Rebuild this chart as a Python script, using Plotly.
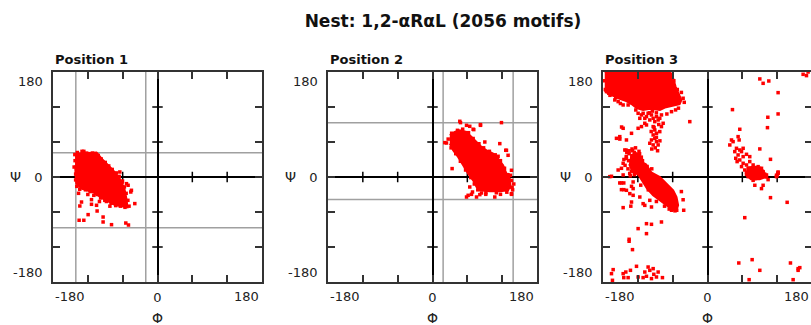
import plotly.graph_objects as go

# ---------------- data ----------------
title_text = "Nest: 1,2-\u03b1R\u03b1L (2056 motifs)"
panel_titles = ["Position 1", "Position 2", "Position 3"]
axis_range = [-180, 180]
tick_vals = [-120, -60, 0, 60, 120]
tick_text = ["", "", "0", "", ""]
edge_labels = ["-180", "180"]
x_title = "\u03a6"
y_title = "\u03a8"

# region bounds (grey lines)
p1_phi_bounds = [-140.7, -20.2]
p1_psi_bounds = [41.5, -87.0]
p2_phi_bounds = [18.3, 138.9]
p2_psi_bounds = [93.0, -38.5]

# Position 1: dense core outline + individual points
p1_core_phi = [-142, -105, -94, -76, -65, -57, -53, -52, -73, -94, -111, -131, -140, -142]
p1_core_psi = [40, 42, 29, 11, -3, -20, -40, -52, -48, -37, -26, -20, -11, 20]
p1_phi = [-130.9, -133.8, -113.7, -113.7, -104, -119.5, -126.9, -135, -93.7, -93.7, -79.2, -54.6, -50,
          -39.1, -46, -53.4, -60.3, -142.4, -143.6, -126.9, -105, -109.7, -90.8, -50.6, -44.9, -64.9,
          -138, -130, -122, -112, -102, -97, -90, -84, -78, -71, -66, -61, -57, -54, -51, -49, -56, -64,
          -72, -80, -88, -98, -104, -116, -124, -134, -139, -141, -141, -142, -136, -120, -100, -82, -60, -58]
p1_psi = [-42.9, -49.7, -38.8, -46.8, -58.3, -64.5, -74.2, -74.2, -68.6, -77.1, -81.7, -78.9, -82.3,
          -45.6, -25.7, -11.4, -6.9, 38.4, 17.1, 44, -48.5, -31.4, -40, -14.2, -22.8, 8.6,
          42, 44, 41, 41, 37, 31, 25, 19, 13, 7, 1, -9, -17, -28, -40, -50, -52, -50,
          -49, -45, -42, -36, -30, -25, -22, -21, -16, -5, 5, 28, -28, -30, -42, -50, -45, -35]

# Position 2
p2_core_phi = [29.8, 38.4, 47, 58.6, 67.2, 75.8, 84.4, 93, 104.4, 113, 121.6, 127.4, 133.2, 134.3, 130.3,
               116, 98.7, 81.5, 75.8, 70, 61.4, 52.8, 44.1, 35.5, 29.8]
p2_core_psi = [71.5, 77.2, 80.1, 77.2, 68.6, 60, 51.4, 45.7, 40.1, 31.5, 20, 5.8, -2.8, -14.3, -22.8,
               -24.5, -24.5, -22.8, -17.1, -5.7, 5.8, 20, 34.3, 45.7, 57.2]
p2_phi = [48.2, 64.2, 71.1, 82.7, 118.8, 115.9, 126.2, 130.2, 24.1, 33.8, 58.6, 67.2, 75.8, 84.4, 91.8,
          107.3, 117.1, 136.1, 133.1, 121.6, 130.2, 134.3, 98.7, 107.3, 113, 64.2, 68.9,
          21.2, 47, 58.6, 70, 82.6, 90.1, 127.4, 136, 136, 61.4, 81.5,
          27, 33, 43, 52, 62, 70, 80, 88, 98, 108, 117, 124, 130, 136, 137, 128, 110, 92, 78, 72, 66,
          57, 48, 40, 32, 140, 138]
p2_psi = [93.2, 86.9, 81.2, 88.6, 93.2, 57.2, 45.8, 37.2, 58.3, 14.4, -34.3, -29.7, -34.3, -27.4, -29.7,
          -34.3, -29.7, -29.7, -17.1, -5.7, -5.7, 2.9, 28.6, 31.5, 35.5, -17.1, -25.7,
          58.9, 95.5, 88.6, 81.8, 89.8, 60, 45.7, 11.5, -28.5, -31.4, -30.2,
          65, 75, 80, 82, 76, 66, 57, 50, 44, 38, 28, 15, 4, -6, -18, -26, -27, -27, -22, -12, -1,
          12, 27, 40, 50, -12, -22]

# Position 3
p3_top_phi = [-177, -65, -60, -55, -49, -45, -48, -59, -73.5, -82, -99, -111, -122, -131, -140, -151,
              -162.5, -171, -177]
p3_top_psi = [180, 180, 172, 155, 141, 132, 125, 122, 119, 115, 117, 115, 118, 125, 130, 134, 139,
              143, 148]
p3_alpha_phi = [-118, -106, -97, -82, -70.6, -59.2, -53.4, -50.6, -53.4, -59.2, -70.6, -82.2, -93.7,
                -104, -110.9, -116.6, -124, -126]
p3_alpha_psi = [28, 22, 8, 0, -11.4, -22.8, -34.3, -48.5, -57.1, -57.1, -48.5, -40, -31.4, -19.9,
                -8.6, 0, 10, 22]
p3_alpha_top_phi = [-133, -122, -114, -110, -113, -121, -129, -135]
p3_alpha_top_psi = [37, 41, 34, 22, 10, 5, 9, 22]
p3_lalpha_phi = [68, 80, 92, 98, 100, 90, 75, 68]
p3_lalpha_psi = [16, 18, 16, 8, 0, -4, -4, 2]
p3_phi = [
    # stem between beta and alpha regions
    -123.5, -119.5, -116.6, -113.7, -110.9, -108, -105.1, -102.3, -99.4, -96.5, -93.6, -90.8, -87.9,
    -85, -82.2, -79.3, -93.6, -90.8, -87.9, -93.6, -90.8, -96.5, -87.9, -93.6, -99.4, -85, -79.3,
    -82.2, -76.4, -108, -113.7, -119.5, -105.1, -88, -95, -100, -84, -92, -97, -88, -82, -90, -96, -86,
    # left side bridge
    -145.3, -130.9, -151.1, -156.8, -139.6, -148, -151, -140, -135, -142.4,
    -139.6, -145.3, -148.2, -153.9, -145.3, -168.3,
    # upper part of the alpha region
    -135, -130, -126, -122, -118, -114, -128, -124, -120, -116, -112, -132, -136, -140, -127, -122,
    -118, -114, -110, -131, -137, -142, -120, -126, -133, -108, -112, -139, -144, -130, -124, -117,
    -110, -104, -100, -96, -134, -129,
    # top-left and right edge of beta region
    -174, -170, -159.7, -153.9, -158, -145.3, -150, -136.7, -178, -176, -168,
    -42, -45, -50, -55, -62, -70, -40, -58, -52, -62, -68, -30.5,
    # around alpha region
    -165.4, -151.1, -148.2, -144.2, -148.2, -144.2, -139.6, -130.9, -128.1, -128.1, -133.8, -128.1,
    -130.9, -145.3, -132.1, -116.6, -110.9, -108, -99.4, -96.5, -105.1, -96.5, -79.3, -119.5, -105.1,
    -135, -135, -129.2, -42, -41, -53, -62, -45, -56, -66, -74, -88, -102, -115,
    # bottom edge
    -162.5, -165.4, -163.7, -145.3, -140.7, -144.2, -136.7, -132.7, -122.3, -119.5, -108, -105.1,
    -102.3, -99.4, -93.6, -92.5, -87.9, -85, -77.6, -96.5, -110.9,
    # right half
    90.1, 95.8, 105.6, 121.6, 43, 103.9, 121.6, 103.3, 55.6, 90.1, 108.5, 164.7, 170.5, 173.3,
    41.3, 38.4, 44.1, 52.7, 54.5, 49.9, 55.6, 58.6, 61.4, 52.7, 48.7, 55.6, 61.4, 67.2, 72.8, 61.4,
    67.2, 72.8, 78.6, 70, 75.8, 81.5, 87.2, 93, 72.8, 78.6, 84.4, 90.1, 95.8, 101.6, 70, 75.8, 84.4,
    95.8, 121.6, 118.8, 47, 51, 58.6, 64.2, 67.2,
    67.2, 72.8, 78.6, 84.4, 87.2, 75.8, 81.5, 70, 90.1, 81.5, 93, 95.8, 104.4, 118.8, 121.6, 101.6,
    98.7, 78.6, 121.6, 119.9,
    108.5, 137.2, 64.2, 53.9, 76.9, 90.1, 71.7, 142.9, 156.1, 159, 156.1, 147.5]
p3_psi = [
    114.9, 109.2, 100.6, 106.4, 109.2, 100.6, 103.5, 109.2, 97.8, 106.4, 100.6, 94.9, 103.5,
    97.8, 100.6, 106.4, 86.4, 80.6, 74.9, 72.1, 66.3, 63.5, 60.6, 55, 57.8, 55, 86.4,
    77.8, 92.1, 92.1, 86.4, 83.5, 89.2, 110, 113, 110, 90, 85, 78, 68, 62, 50, 48, 45,
    83.5, 74.9, 69.2, 66.3, 63.5, 85.7, 65, 46, 45, 46.3,
    32, 23.5, 14.9, 12, 3.5, 0.6,
    40, 36, 42, 38, 44, 34, 30, 26, 30, 24, 20, 22, 28, 35, 16, 14,
    12, 8, 5, 10, 14, 20, 20, 4, 2, 16, 28, 42, 30, 48, 50, 40,
    12, 18, 8, 14, 6, 45,
    146.4, 143.5, 132.1, 129.2, 136, 123.5, 126, 123.5, 165, 150, 140,
    135, 145, 118, 115, 112, 108, 128, 165, 150, 176, 178, 94.9,
    1.2, -10.2, -10.2, -10.2, -21.7, -21.7, -22.8, -16, -8.5, -19.9, -28.5, -31.4,
    -42.9, -52.5, -50, -34.3, -45.7, -48.6, -40, -51.4, -80, -81.1, -77.1, -88.5, -97.1,
    -106.8, -110.2, -124.5, -39, -57, -57, -57, -25, -58, -55, -50, -42, -22, -14,
    -158.8, -165.7, -177.1, -165.7, -162.9, -172.5, -172.5, -160, -153.1, -171.4, -162.9, -170.2,
    -154.3, -160, -157.1, -166.8, -171.4, -162.9, -172.5, -174.2, -172.5,
    168.1, 160.6, 164.6, 144.6, 115.5, 102.4, 108.1, 84.6, 81.8, 48.1, 30.3, 176, 173.8, 180,
    63.5, 54.9, 60.6, 69.2, 63.5, 49.2, 46.3, 43.5, 49.2, 37.8, 32.1, 29.2, 34.9, 38.9, 34.9, 23.5,
    20.6, 26.4, 20.6, 14.9, 12, 14.9, 17.8, 14.9, 6.3, 4.6, 3.5, 6.3, 9.2, 3.5, 0.6, -1.1, -1.1,
    0.6, 6.3, 0.6, 43.5, 26.4, 17.8, 12, 4.6,
    8.6, 5.8, 6.9, 4.6, 8.6, 0, -2.8, 2.9, 1.2, -14.2, -19.9, -14.2, -4.5, 2.9, 6.9, 0,
    4.6, -5.7, 8.6, 2.9,
    -35.4, -43.4, -69.7, -147.4, -141.7, -160, -176, -147.4, -157.1, -155.4, -160, -176]

panels = [
    dict(cores=[(p1_core_phi, p1_core_psi)], phi=p1_phi, psi=p1_psi,
         vlines=p1_phi_bounds, hlines=p1_psi_bounds),
    dict(cores=[(p2_core_phi, p2_core_psi)], phi=p2_phi, psi=p2_psi,
         vlines=p2_phi_bounds, hlines=p2_psi_bounds),
    dict(cores=[(p3_top_phi, p3_top_psi), (p3_alpha_phi, p3_alpha_psi),
                (p3_alpha_top_phi, p3_alpha_top_psi), (p3_lalpha_phi, p3_lalpha_psi)],
         phi=p3_phi, psi=p3_psi, vlines=[], hlines=[]),
]

# ---------------- layout geometry ----------------
W, H = 813, 325          # last panel runs just past the 811 px window edge, as in the reference
ML, MR, MT, MB = 53, 0, 72, 43
plot_w = W - ML - MR
panel_px = [(53, 262), (328, 537), (603, 812)]
domains = [[(a - ML) / plot_w, min(1.0, (b - ML) / plot_w)] for a, b in panel_px]

RED = "#ff0000"
FRAME = "#333333"
GREY = "#a0a0a0"
TICK_FONT = dict(family="DejaVu Sans", size=13, color="#222222")

fig = go.Figure()
shapes = []
annotations = []

for i, p in enumerate(panels, start=1):
    xa = "x" if i == 1 else f"x{i}"
    ya = "y" if i == 1 else f"y{i}"
    for cphi, cpsi in p["cores"]:
        fig.add_trace(go.Scatter(x=cphi, y=cpsi, xaxis=xa, yaxis=ya, mode="lines", fill="toself",
                                 fillcolor=RED, line=dict(color=RED, width=2), hoverinfo="skip"))
    fig.add_trace(go.Scatter(x=p["phi"], y=p["psi"], xaxis=xa, yaxis=ya, mode="markers",
                             marker=dict(symbol="square", size=3.5, color=RED, line=dict(width=0))))

    axis_common = dict(range=axis_range, tickvals=tick_vals, ticktext=tick_text, ticks="inside",
                       ticklen=7, tickwidth=1.5, tickcolor=FRAME, showline=True, linecolor=FRAME,
                       linewidth=1.5, mirror="ticks", showgrid=False, zeroline=True,
                       zerolinecolor="#000000", zerolinewidth=1.5, tickfont=TICK_FONT,
                       fixedrange=True)
    fig.update_layout(**{
        ("xaxis" if i == 1 else f"xaxis{i}"): dict(domain=domains[i - 1], anchor=ya,
                                                    ticklabelstandoff=3, **axis_common),
        ("yaxis" if i == 1 else f"yaxis{i}"): dict(domain=[0, 1], anchor=xa,
                                                    ticklabelstandoff=6, **axis_common),
    })

    # grey bound lines
    for v in p["vlines"]:
        shapes.append(dict(type="line", xref=xa, yref=ya, x0=v, x1=v, y0=axis_range[0], y1=axis_range[1],
                           line=dict(color=GREY, width=1.5), layer="below"))
    for v in p["hlines"]:
        shapes.append(dict(type="line", xref=xa, yref=ya, y0=v, y1=v, x0=axis_range[0], x1=axis_range[1],
                           line=dict(color=GREY, width=1.5), layer="below"))
    # tick marks crossing the zero lines
    for v in tick_vals:
        if v == 0:
            continue
        shapes.append(dict(type="line", xref=xa, yref=ya, x0=v, x1=v, y0=-9, y1=9,
                           line=dict(color="#000000", width=1.5), layer="below"))
        shapes.append(dict(type="line", xref=xa, yref=ya, y0=v, y1=v, x0=-9, x1=9,
                           line=dict(color="#000000", width=1.5), layer="below"))

    # edge tick labels
    annotations += [
        dict(text=edge_labels[0], xref=xa, x=axis_range[0], xanchor="left", yref="paper", y=-0.0714,
             yanchor="middle", showarrow=False, font=TICK_FONT),
        dict(text=edge_labels[1], xref=xa, x=axis_range[1], xanchor="right", xshift=-1, yref="paper",
             y=-0.0714, yanchor="middle", showarrow=False, font=TICK_FONT),
        dict(text=edge_labels[1], xref=f"{xa} domain", x=0, xanchor="right", xshift=-8, yref=ya,
             y=axis_range[1], yanchor="top", showarrow=False, font=TICK_FONT),
        dict(text=edge_labels[0], xref=f"{xa} domain", x=0, xanchor="right", xshift=-8, yref=ya,
             y=axis_range[0], yanchor="bottom", showarrow=False, font=TICK_FONT),
        dict(text=x_title, xref=xa, x=0, xanchor="center", yref="paper", y=-0.171, yanchor="middle",
             showarrow=False, font=dict(family="DejaVu Sans", size=14, color="#222222")),
        dict(text=y_title, xref=f"{xa} domain", x=0, xanchor="center", xshift=-38, yref=ya, y=0,
             yanchor="middle", showarrow=False, font=dict(family="DejaVu Sans", size=14, color="#222222")),
        dict(text=f"<b>{panel_titles[i - 1]}</b>", xref=f"{xa} domain", x=0, xanchor="left",
             yref="paper", y=1, yanchor="bottom", yshift=3, showarrow=False,
             font=dict(family="DejaVu Sans", size=13, color="#111111")),
    ]

fig.update_layout(
    width=W, height=H, autosize=False,
    margin=dict(l=ML, r=MR, t=MT, b=MB, pad=0),
    plot_bgcolor="white", paper_bgcolor="white", showlegend=False,
    title=dict(text=f"<b>{title_text}</b>", x=(443 - ML) / plot_w, xref="paper", xanchor="center",
               y=1 - 21 / H, yref="container", yanchor="middle",
               font=dict(family="DejaVu Sans", size=17, color="#111111")),
    shapes=shapes, annotations=annotations,
)

fig.write_html("out.html", config={"displayModeBar": False},
               post_script="document.body.style.margin='0px';document.body.style.overflow='hidden';")
